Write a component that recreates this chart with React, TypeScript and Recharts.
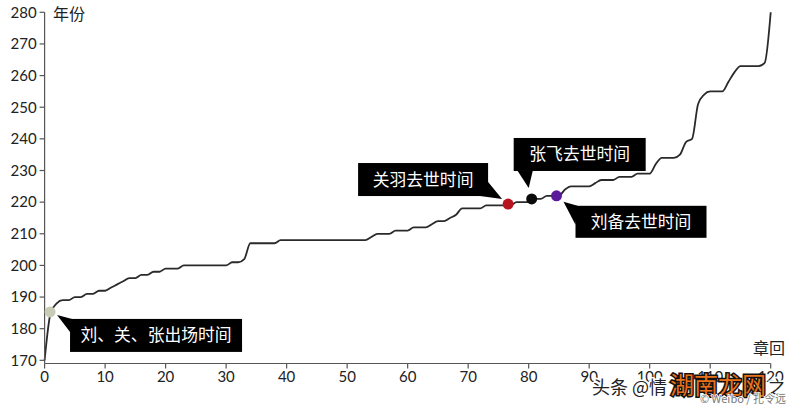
import { LineChart, Line, XAxis, YAxis, ReferenceDot } from "recharts"

const chapters = Array.from({ length: 121 }, (_, i) => i)
const years = [
  170, 185, 188, 189, 189, 190, 190, 191, 191, 192, 192,
  193, 194, 195, 196, 196, 197, 197, 198, 198, 199,
  199, 199, 200, 200, 200, 200, 200, 200, 200, 200,
  201, 201, 202, 207, 207, 207, 207, 207, 208, 208,
  208, 208, 208, 208, 208, 208, 208, 208, 208, 208,
  208, 208, 208, 209, 210, 210, 210, 211, 211, 211,
  212, 212, 212, 213, 214, 214, 215, 216, 218, 218,
  218, 218, 219, 219, 219, 219, 219, 220, 220, 220,
  221, 221, 222, 222, 222, 224, 225, 225, 225, 225,
  226, 227, 227, 227, 228, 228, 228, 229, 229, 229,
  232, 234, 234, 234, 235, 239, 240, 251, 254, 255,
  255, 255, 258, 261, 263, 263, 263, 263, 264, 280,
]
const xTicks = [0, 10, 20, 30, 40, 50, 60, 70, 80, 90, 100, 110, 120]
const yTicks = [170, 180, 190, 200, 210, 220, 230, 240, 250, 260, 270, 280]

const markChapters = [0.9, 76.6, 80.5, 84.6]
const markYears = [185.3, 219.4, 221, 222]
const markLabels = ["刘、关、张出场时间", "关羽去世时间", "张飞去世时间", "刘备去世时间"]

const markColors = ["#c9ccb4", "#b8141f", "#0a0a0a", "#5b1a9c"]
// callout box and pointer, relative to the dot
const callouts = [
  { x: 20, y: 7, w: 172, h: 33, tip: [[7, 3], [22, 7], [20, 20]] },
  { x: -150, y: -41, w: 130, h: 33, tip: [[-6, -5], [-20, -22], [-28, -8]] },
  { x: -18, y: -61, w: 132, h: 33, tip: [[-3, -11], [-14, -28], [1, -28]] },
  { x: 19, y: 10, w: 131, h: 32, tip: [[7, 6], [21, 10], [19, 29]] },
]

const data = chapters.map((c, i) => ({ chapter: c, year: years[i] }))
const latin = "Lato, 'Noto Sans CJK SC', sans-serif"
const cjk = "'Noto Sans CJK SC', sans-serif"

function Callout({ cx, cy, index }: { cx?: number; cy?: number; index: number }) {
  const c = callouts[index]
  const x0 = cx ?? 0
  const y0 = cy ?? 0
  return (
    <g>
      <polygon points={c.tip.map(([a, b]) => `${x0 + a},${y0 + b}`).join(" ")} fill="#000" />
      <rect x={x0 + c.x} y={y0 + c.y} width={c.w} height={c.h} fill="#000" />
      <text
        x={x0 + c.x + c.w / 2}
        y={y0 + c.y + c.h / 2 + 6}
        textAnchor="middle"
        fill="#fff"
        fontSize={16.8}
        fontFamily={cjk}
      >
        {markLabels[index]}
      </text>
    </g>
  )
}

export default function App() {
  return (
    <div style={{ position: "fixed", left: 0, top: 0, width: 800, height: 409, background: "#fff" }}>
      <LineChart
        width={800}
        height={409}
        data={data}
        margin={{ top: 12.3, right: 29.3, left: 0, bottom: 0 }}
      >
        <XAxis
          dataKey="chapter"
          type="number"
          domain={[0, 120]}
          ticks={xTicks}
          interval={0}
          height={45.5}
          tickSize={5}
          tickMargin={3}
          tick={{ fontSize: 15, fill: "#222", fontFamily: latin }}
          axisLine={{ stroke: "#555", strokeWidth: 1.2 }}
          tickLine={{ stroke: "#555", strokeWidth: 1.2 }}
          label={{
            content: () => (
              <text x={753} y={354} fontSize={16} fill="#222" fontFamily={cjk}>
                章回
              </text>
            ),
          }}
        />
        <YAxis
          type="number"
          domain={[169, 280]}
          ticks={yTicks}
          interval={0}
          width={44.6}
          tickSize={5}
          tickMargin={3}
          tick={{ fontSize: 15, fill: "#222", fontFamily: latin }}
          axisLine={{ stroke: "#555", strokeWidth: 1.2 }}
          tickLine={{ stroke: "#555", strokeWidth: 1.2 }}
          label={{
            content: () => (
              <text x={53} y={20} fontSize={16} fill="#222" fontFamily={cjk}>
                年份
              </text>
            ),
          }}
        />
        <Line
          type="monotone"
          dataKey="year"
          stroke="#2a2a2a"
          strokeWidth={1.8}
          dot={false}
          isAnimationActive={false}
        />
        {markChapters.map((c, i) => (
          <ReferenceDot
            key={`callout-${i}`}
            x={c}
            y={markYears[i]}
            shape={(p: { cx?: number; cy?: number }) => <Callout cx={p.cx} cy={p.cy} index={i} />}
          />
        ))}
        {markChapters.map((c, i) => (
          <ReferenceDot
            key={`dot-${i}`}
            x={c}
            y={markYears[i]}
            r={5.5}
            fill={markColors[i]}
            stroke="none"
          />
        ))}
      </LineChart>
      <svg width={800} height={409} style={{ position: "absolute", left: 0, top: 0, pointerEvents: "none" }}>
        <g fontFamily={cjk} style={{ paintOrder: "stroke" }}>
          <text x={592} y={394} fontSize={18} fill="#222" stroke="#fff" strokeWidth={3}>
            头条 @情
          </text>
          <text x={768} y={394} fontSize={18} fill="#222" stroke="#fff" strokeWidth={3}>
            之
          </text>
          <text x={670} y={394} fontSize={24} fill="#e8701a" stroke="#111" strokeWidth={3}>
            湖南龙网
          </text>
          <text x={700} y={403} fontSize={11} fill="#777" stroke="#fff" strokeWidth={1.5}>
            © Weibo / 扎令远
          </text>
        </g>
      </svg>
    </div>
  )
}
